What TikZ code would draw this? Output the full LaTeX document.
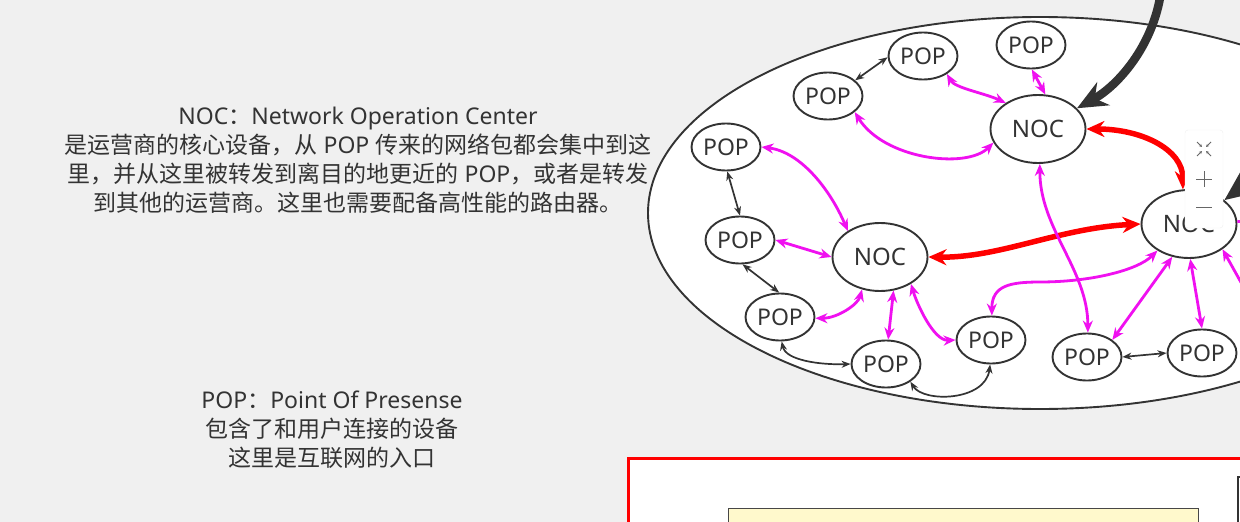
\documentclass[tikz,border=0pt]{standalone}
\usepackage{fontspec}
\setmainfont{Noto Sans}
\newfontfamily\cjk{Noto Sans CJK SC}
\usetikzlibrary{shapes.geometric,arrows.meta}
\definecolor{bgc}{HTML}{F0F0F0}
\definecolor{txt}{HTML}{333333}
\definecolor{edge}{HTML}{333333}
\definecolor{mag}{HTML}{F010F0}
\definecolor{redc}{HTML}{FF0000}
\definecolor{yel}{HTML}{FFF9CC}
\begin{document}
\begin{tikzpicture}[x=1pt,y=-1pt,
  pop/.style={ellipse, draw=edge, line width=1.9pt, fill=white, minimum width=69pt, minimum height=47pt, inner sep=0pt, text=txt, font=\fontsize{23}{23}\selectfont},
  noc/.style={pop, minimum width=95pt, minimum height=68pt, font=\fontsize{24}{24}\selectfont},
  magarrow/.style={draw=mag, line width=2.8pt, {Stealth[length=12pt,width=10pt]}-{Stealth[length=12pt,width=10pt]}},
  magone/.style={draw=mag, line width=2.8pt, {Stealth[length=12pt,width=10pt]}-},
  blkarrow/.style={draw=edge, line width=1.7pt, {Stealth[length=9pt,width=7pt]}-{Stealth[length=9pt,width=7pt]}},
  redarrow/.style={draw=redc, line width=5.5pt, {Stealth[length=18pt,width=16pt]}-{Stealth[length=18pt,width=16pt]}},
  bigarrow/.style={draw=edge, line width=8.5pt, -{Stealth[length=30pt,width=26pt]}},
  infotext/.style={text=txt, align=center, font=\fontsize{23}{29}\selectfont, inner sep=0pt},
  icon/.style={draw=gray!80!black, line width=1pt}
]
\useasboundingbox (0,0) rectangle (1240,522);
\clip (0,0) rectangle (1240,522);
\fill[bgc] (0,0) rectangle (1240,522);

% info texts
\node[infotext] (noctxt) at (358,160) {NOC{\cjk ：}Network Operation Center\\{\cjk 是运营商的核心设备，从} POP {\cjk 传来的网络包都会集中到这}\\{\cjk 里，并从这里被转发到离目的地更近的} POP{\cjk ，或者是转发}\\{\cjk 到其他的运营商。这里也需要配备高性能的路由器。}};
\node[infotext] (poptxt) at (332,430) {POP{\cjk ：}Point Of Presense\\{\cjk 包含了和用户连接的设备}\\{\cjk 这里是互联网的入口}};

% bottom boxes
\node[draw=redc, line width=3pt, fill=white, minimum width=700pt, minimum height=120pt, anchor=north west, inner sep=0pt] (redbox) at (627,457) {};
\node[draw=edge!90, line width=1.2pt, fill=yel, minimum width=470pt, minimum height=60pt, anchor=north west, inner sep=0pt] (yelbox) at (728,508) {};
\node[draw=edge, line width=1.5pt, fill=white, minimum width=60pt, minimum height=80pt, anchor=north west, inner sep=0pt] (darkbox) at (1237,476) {};

% big network ellipse
\node[ellipse, draw=edge, line width=1.9pt, fill=white, minimum width=784pt, minimum height=392pt, inner sep=0pt] (isp) at (1040,213) {};

% nodes
\node[pop] (pA) at (1031,45) {POP};
\node[pop] (pB) at (923,56) {POP};
\node[pop] (pC) at (828,96) {POP};
\node[noc] (nT) at (1038,129) {NOC};
\node[pop] (pD) at (726,147) {POP};
\node[pop] (pE) at (740,240) {POP};
\node[noc] (nM) at (880,257) {NOC};
\node[noc] (nR) at (1189,224) {NOC};
\node[pop] (pF) at (780,317) {POP};
\node[pop] (pG) at (886,364) {POP};
\node[pop] (pH) at (991,340) {POP};
\node[pop] (pI) at (1087,357) {POP};
\node[pop] (pJ) at (1202,353) {POP};

% red links
\draw[redarrow] (nT.0) .. controls +(55,0) and +(0,-40) .. (nR.100);
\draw[redarrow] (nM.0) .. controls +(72,1) and +(-82,4) .. (nR.180);

% black thin links
\draw[blkarrow] (pB.182) -- (pC.30);
\draw[blkarrow] (pD.-87) -- (pE.90);
\draw[blkarrow] (pE.-84) -- (pF.92);
\draw[blkarrow] (pF.-86) .. controls +(4,19) and +(-30,1) .. (pG.180);
\draw[blkarrow] (pG.-36) .. controls +(13,21) and +(-5,37) .. (pH.268);
\draw[blkarrow] (pI.0) -- (pJ.180);

% magenta links
\draw[magarrow] (pB.-37) .. controls +(8,14) and +(-22,-10) .. (nT.141);
\draw[magarrow] (pA.-88) -- (nT.78);
\draw[magarrow] (pC.-31) .. controls +(29,47) and +(-27,27) .. (nT.197);
\draw[magarrow] (pD.0) .. controls +(40,5) and +(-17,-40) .. (nM.141);
\draw[magarrow] (pE.0) -- (nM.180);
\draw[magarrow] (pF.-2) .. controls +(22,0) and +(-4,15) .. (nM.241);
\draw[magarrow] (pG.85) -- (nM.-68);
\draw[magarrow] (pH.180) .. controls +(-22,1) and +(6,20) .. (nM.-41);
\coordinate (m1) at (1040,282);
\draw[magarrow] (pH.88) .. controls +(0,-30) and +(-30,0) .. (m1) .. controls +(50,0) and +(-20,20) .. (nR.220);
\draw[magarrow] (nT.-87) .. controls +(0,65) and +(0,-63) .. (pI.88);
\draw[magarrow] (pI.34) -- (nR.243);
\draw[magarrow] (pJ.90) -- (nR.-88);
\coordinate (offA) at (1262,320);
\draw[magone] (nR.-37) -- (offA);
\coordinate (offB) at (1262,222);
\draw[draw=mag, line width=2.8pt] (nR.3) -- (offB);

% thick black incoming
\coordinate (inT) at (1161,-8);
\draw[bigarrow] (inT) .. controls +(-8,55) and +(40,-22) .. (nT.28);
\coordinate (inR) at (1262,160);
\draw[bigarrow] (inR) .. controls +(-10,20) and +(20,-15) .. (nR.34);

% zoom toolbar overlay
\node[draw=gray!12, fill=white, rounded corners=3pt, minimum width=38pt, minimum height=98pt, inner sep=0pt] (tool) at (1204,179) {};
\draw[icon] (1196,179) -- (1212,179) (1204,171) -- (1204,187);
\draw[icon] (1196,207) -- (1212,207);
\begin{scope}[line width=0.9pt, draw=gray!80!black, -{Stealth[length=3pt,width=3pt]}]
\draw (1197,142) -- (1202,147);
\draw (1211,142) -- (1206,147);
\draw (1197,156) -- (1202,151);
\draw (1211,156) -- (1206,151);
\end{scope}
\end{tikzpicture}
\end{document}
